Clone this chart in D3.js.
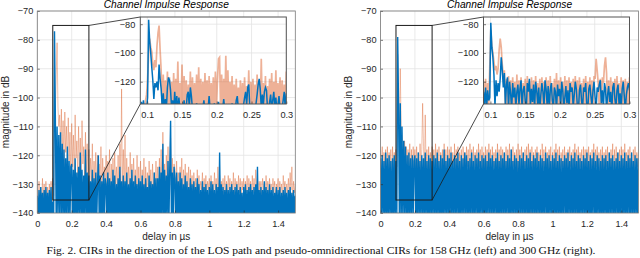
<!DOCTYPE html>
<html>
<head>
<meta charset="utf-8">
<script src="https://cdn.jsdelivr.net/npm/d3@7"></script>
<style>
  body { margin: 0; background: #fff; }
  svg { display: block; }
  .tick text { font-family: "Liberation Sans", Arial, sans-serif; font-size: 9.2px; fill: #262626; }
  .tick line { stroke: #262626; stroke-width: 0.6; }
</style>
</head>
<body>
<div id="chart"></div>
<script>
// sample grids (us)
const delayStep = 0.005;      // full-range traces, 0 .. 1.5 us
const zoomStart = 0.09;       // zoomed traces start
const zoomStep = 0.0015;      // zoomed traces, 0.09 .. 0.3 us

const xTicks = [0, 0.2, 0.4, 0.6, 0.8, 1, 1.2, 1.4];
const yTicks = [-70, -80, -90, -100, -110, -120, -130, -140];
const zoomXTicks = [0.1, 0.15, 0.2, 0.25, 0.3];
const zoomYTicks = [-80, -100, -120];

// 158 GHz, LOS direction (dB)
const los158 = [
  -134,-143,-132,-145,-131,-142,-133,-146,-132,-141,-131,-144,-133,-143,-132,-142,-131,-145,-136,-144,
  -77,-107,-143,-110,-142,-113,-141,-112,-144,-116,-142,-118,-145,-121,-141,-117,-143,-122,-142,-124,
  -123,-144,-125,-142,-121,-145,-126,-141,-124,-143,-119,-142,-125,-145,-127,-141,-118,-144,-126,-142,
  -127,-143,-129,-141,-125,-145,-128,-142,-126,-144,-130,-120,-143,-127,-145,-129,-141,-126,-144,-128,
  -130,-142,-126,-145,-128,-141,-129,-144,-125,-143,-127,-145,-130,-141,-128,-144,-124,-142,-129,-145,
  -127,-143,-129,-141,-126,-145,-130,-142,-128,-144,-125,-143,-129,-145,-127,-141,-130,-144,-128,-142,
  -129,-145,-127,-142,-130,-144,-128,-141,-131,-145,-127,-143,-129,-141,-130,-144,-126,-142,-128,-145,
  -128,-143,-124,-144,-126,-142,-116,-145,-125,-143,-127,-141,-122,-144,-125,-108,-143,-126,-142,-124,
  -128,-144,-126,-142,-129,-145,-126,-141,-128,-144,-130,-142,-127,-145,-129,-141,-131,-144,-128,-142,
  -130,-145,-129,-142,-131,-144,-128,-141,-130,-145,-132,-143,-129,-142,-131,-144,-130,-141,-132,-145,
  -131,-143,-129,-145,-130,-142,-132,-144,-130,-141,-131,-145,-119,-143,-130,-142,-131,-144,-132,-141,
  -130,-145,-132,-142,-131,-144,-130,-141,-132,-145,-131,-143,-130,-142,-132,-144,-131,-141,-133,-145,
  -131,-143,-130,-145,-132,-142,-131,-144,-130,-141,-132,-145,-131,-143,-130,-142,-124,-144,-132,-141,
  -131,-145,-132,-142,-129,-144,-131,-141,-132,-145,-130,-143,-132,-142,-131,-144,-133,-141,-131,-145,
  -132,-143,-131,-145,-133,-142,-132,-144,-131,-141,-133,-145,-132,-143,-131,-142,-133,-144,-132,-141,
  -134
];
// 158 GHz, pseudo-omnidirectional (dB)
const omni158 = [
  -130,-137,-129,-136,-131,-138,-128,-135,-130,-137,-129,-136,-131,-138,-130,-135,-129,-137,-128,-134,
  -96,-104,-92,-81,-103,-110,-106,-118,-104,-121,-108,-124,-105,-119,-110,-126,-107,-122,-112,-127,
  -109,-124,-113,-128,-106,-121,-115,-127,-110,-125,-114,-129,-108,-123,-117,-128,-112,-126,-116,-130,
  -118,-131,-121,-129,-116,-132,-122,-130,-119,-133,-120,-128,-123,-131,-117,-134,-121,-129,-124,-132,
  -120,-133,-122,-130,-118,-134,-123,-131,-121,-133,-119,-130,-124,-132,-120,-135,-116,-131,-97,-133,
  -118,-132,-113,-134,-121,-130,-124,-133,-119,-131,-123,-134,-121,-130,-125,-133,-120,-131,-124,-134,
  -122,-133,-125,-131,-121,-134,-124,-132,-126,-133,-122,-130,-125,-134,-123,-131,-126,-133,-122,-132,
  -124,-133,-121,-131,-118,-134,-112,-132,-123,-133,-120,-131,-117,-134,-122,-114,-132,-121,-133,-123,
  -125,-134,-122,-131,-126,-133,-124,-132,-121,-134,-125,-131,-123,-133,-126,-132,-124,-134,-125,-131,
  -127,-134,-126,-132,-128,-135,-125,-133,-127,-134,-129,-132,-126,-135,-128,-133,-127,-134,-129,-132,
  -128,-135,-127,-133,-129,-134,-126,-132,-128,-135,-124,-133,-127,-134,-129,-132,-128,-135,-127,-133,
  -129,-134,-127,-132,-128,-135,-129,-133,-126,-134,-128,-132,-129,-135,-127,-133,-128,-134,-129,-132,
  -128,-135,-129,-133,-127,-134,-128,-132,-129,-135,-127,-133,-128,-134,-125,-132,-128,-135,-129,-133,
  -129,-134,-128,-132,-130,-135,-127,-133,-129,-134,-128,-132,-130,-135,-128,-133,-129,-134,-130,-132,
  -128,-135,-129,-133,-130,-134,-127,-132,-129,-135,-130,-133,-128,-134,-126,-132,-124,-135,-129,-133,
  -130
];
// 158 GHz zoomed window
const los158Zoom = [
  -138,-134,-140,-133,-141,-137,-139,-131,-77,-92,-100,-110,-119,-132,-121,-124,-120,-126,-108,-118,
  -125,-138,-128,-140,-132,-139,-124,-117,-119,-126,-138,-133,-141,-127,-139,-130,-142,-131,-139,-141,
  -137,-140,-133,-142,-139,-129,-127,-138,-124,-130,-139,-142,-137,-140,-135,-141,-138,-142,-136,-140,
  -138,-133,-141,-136,-142,-139,-130,-140,-137,-142,-139,-135,-141,-138,-142,-134,-140,-137,-141,-139,
  -132,-140,-138,-142,-136,-141,-139,-142,-135,-140,-138,-141,-133,-130,-139,-142,-137,-140,-141,-136,
  -131,-127,-136,-124,-122,-138,-141,-136,-142,-139,-140,-135,-129,-122,-118,-125,-138,-129,-136,-127,
  -124,-126,-139,-141,-134,-129,-140,-133,-127,-138,-131,-141,-136,-130,-139,-142,-138,-133,-127,-139,
  -128
];
const omni158Zoom = [
  -138,-136,-141,-135,-139,-133,-129,-118,-100,-90,-96,-99,-108,-112,-105,-110,-95,-86,-81,-98,
  -112,-140,-115,-138,-119,-141,-113,-137,-117,-140,-120,-139,-114,-142,-118,-138,-106,-140,-121,-139,
  -108,-141,-116,-138,-119,-140,-122,-137,-113,-142,-117,-139,-121,-140,-115,-138,-110,-141,-118,-137,
  -120,-140,-114,-138,-119,-141,-116,-139,-121,-137,-117,-140,-113,-138,-119,-104,-103,-141,-115,-139,
  -118,-140,-102,-138,-112,-141,-120,-137,-116,-140,-122,-139,-118,-142,-124,-138,-119,-140,-121,-137,
  -117,-141,-123,-138,-112,-140,-120,-139,-118,-137,-122,-141,-115,-138,-119,-140,-104,-139,-121,-138,
  -116,-141,-123,-137,-118,-140,-114,-139,-120,-138,-112,-142,-121,-137,-117,-140,-119,-138,-122,-141,
  -113
];

// 300 GHz, LOS direction (dB)
const los300 = [
  -121,-143,-120,-141,-122,-145,-119,-142,-121,-144,-120,-141,-122,-145,-121,-142,-120,-144,-122,-141,
  -79,-103,-143,-102,-144,-110,-142,-115,-141,-117,-144,-120,-145,-119,-142,-121,-143,-120,-141,-122,
  -120,-142,-121,-145,-119,-141,-122,-144,-120,-141,-121,-145,-119,-142,-122,-143,-120,-145,-121,-141,
  -122,-144,-120,-141,-121,-145,-119,-142,-122,-143,-120,-145,-121,-142,-118,-144,-122,-141,-120,-145,
  -121,-141,-119,-144,-122,-141,-120,-145,-121,-142,-119,-143,-122,-145,-120,-141,-121,-144,-119,-141,
  -120,-145,-122,-142,-121,-144,-119,-141,-122,-145,-120,-141,-121,-143,-119,-145,-122,-141,-120,-144,
  -121,-142,-120,-145,-122,-141,-119,-144,-121,-141,-120,-145,-122,-141,-121,-143,-119,-145,-122,-142,
  -120,-144,-121,-141,-119,-145,-122,-141,-120,-143,-121,-145,-118,-142,-122,-144,-120,-141,-121,-145,
  -122,-141,-120,-144,-121,-141,-119,-145,-122,-142,-120,-143,-121,-145,-119,-141,-122,-144,-120,-141,
  -121,-145,-119,-141,-122,-144,-120,-142,-121,-145,-122,-141,-119,-143,-121,-145,-120,-141,-122,-144,
  -120,-141,-121,-145,-119,-143,-122,-142,-120,-144,-121,-145,-122,-141,-120,-142,-121,-145,-119,-141,
  -122,-144,-120,-142,-121,-145,-119,-141,-122,-143,-120,-145,-121,-141,-122,-144,-120,-141,-121,-145,
  -119,-142,-122,-144,-120,-145,-121,-141,-119,-143,-122,-145,-120,-141,-121,-144,-122,-142,-120,-145,
  -121,-141,-120,-145,-122,-142,-119,-144,-121,-141,-120,-145,-122,-141,-121,-143,-119,-145,-122,-141,
  -120,-144,-121,-142,-119,-145,-122,-141,-120,-143,-121,-145,-119,-141,-122,-144,-120,-141,-121,-145,
  -121
];
// 300 GHz, pseudo-omnidirectional (dB)
const omni300 = [
  -118,-126,-117,-129,-119,-124,-118,-130,-117,-127,-119,-125,-118,-131,-117,-126,-119,-128,-118,-124,
  -85,-104,-108,-90,-110,-113,-116,-122,-115,-126,-117,-124,-118,-129,-116,-125,-118,-127,-117,-124,
  -118,-128,-117,-125,-119,-130,-116,-126,-118,-102,-117,-127,-106,-124,-118,-129,-117,-125,-119,-128,
  -117,-126,-118,-130,-116,-124,-118,-127,-117,-139,-119,-125,-118,-128,-116,-126,-118,-131,-117,-124,
  -118,-128,-117,-125,-119,-140,-116,-127,-118,-124,-117,-129,-119,-126,-118,-138,-117,-125,-119,-127,
  -117,-124,-118,-131,-116,-126,-118,-128,-117,-140,-119,-125,-118,-127,-116,-124,-118,-139,-117,-126,
  -119,-128,-117,-125,-118,-130,-116,-126,-118,-140,-117,-124,-119,-127,-118,-129,-116,-125,-118,-138,
  -117,-126,-118,-124,-119,-131,-117,-128,-118,-125,-116,-140,-118,-127,-117,-124,-119,-129,-118,-126,
  -116,-127,-118,-139,-117,-125,-119,-128,-118,-124,-117,-130,-116,-126,-118,-140,-117,-125,-119,-127,
  -118,-124,-117,-129,-119,-126,-118,-140,-116,-125,-118,-128,-117,-124,-119,-131,-118,-126,-117,-139,
  -119,-127,-118,-125,-116,-130,-118,-126,-117,-140,-119,-124,-118,-128,-117,-125,-119,-139,-118,-127,
  -117,-124,-119,-129,-118,-126,-116,-140,-118,-125,-117,-128,-119,-124,-118,-131,-117,-126,-118,-139,
  -118,-128,-117,-125,-119,-140,-118,-126,-116,-129,-118,-124,-117,-127,-119,-138,-118,-125,-117,-128,
  -119,-126,-118,-124,-117,-139,-119,-127,-118,-125,-116,-140,-118,-128,-117,-124,-119,-126,-118,-130,
  -117,-125,-118,-140,-116,-127,-119,-124,-118,-129,-117,-126,-119,-139,-118,-125,-117,-128,-119,-124,
  -118
];
// 300 GHz zoomed window
const los300Zoom = [
  -127,-136,-124,-138,-126,-133,-131,-79,-96,-103,-115,-137,-119,-130,-121,-127,-118,-103,-112,-124,
  -114,-137,-122,-117,-139,-120,-128,-140,-121,-131,-124,-138,-127,-122,-136,-125,-119,-139,-126,-123,
  -133,-140,-121,-127,-118,-137,-125,-134,-122,-139,-120,-126,-136,-124,-141,-129,-121,-127,-138,-119,
  -125,-136,-123,-140,-126,-121,-133,-138,-124,-127,-141,-122,-130,-125,-137,-120,-126,-139,-131,-123,
  -135,-126,-140,-121,-127,-124,-138,-129,-120,-125,-137,-141,-126,-122,-133,-139,-124,-127,-121,-136,
  -140,-125,-122,-130,-137,-126,-120,-131,-139,-124,-127,-122,-119,-135,-126,-138,-121,-125,-140,-129,
  -123,-134,-127,-141,-124,-121,-132,-138,-126,-122,-136,-128,-139,-125,-120,-130,-140,-129,-124,-121,
  -126
];
const omni300Zoom = [
  -120,-138,-118,-140,-121,-137,-110,-84,-95,-100,-106,-112,-109,-115,-111,-98,-90,-96,-108,-116,
  -112,-139,-118,-141,-116,-138,-119,-140,-117,-137,-120,-141,-115,-139,-119,-138,-117,-140,-121,-137,
  -118,-141,-116,-138,-120,-140,-117,-137,-119,-141,-116,-139,-121,-138,-118,-140,-117,-137,-120,-141,
  -117,-138,-119,-140,-116,-137,-121,-141,-118,-139,-114,-138,-119,-140,-117,-137,-120,-141,-116,-138,
  -119,-140,-117,-137,-120,-141,-118,-139,-116,-138,-119,-140,-117,-137,-121,-141,-118,-139,-116,-138,
  -120,-140,-117,-137,-119,-141,-116,-118,-104,-112,-121,-139,-118,-138,-117,-121,-109,-103,-114,-140,
  -119,-138,-117,-141,-120,-137,-118,-140,-116,-139,-121,-138,-117,-141,-119,-137,-118,-140,-120,-138,
  -117
];

const width = 640, height = 258;
const blue = "#0072bd", orange = "#d95319";
const font = '"Liberation Sans", Arial, sans-serif';

const svg = d3.select("#chart").append("svg")
  .attr("width", width).attr("height", height);

const panels = [
  { id: "p158", left: 37.3, los: los158, omni: omni158, losZoom: los158Zoom, omniZoom: omni158Zoom },
  { id: "p300", left: 380.5, los: los300, omni: omni300, losZoom: los300Zoom, omniZoom: omni300Zoom }
];

const plotW = 258, plotTop = 11, plotBottom = 213;
const insetOffset = 103, insetW = 146, insetTop = 17, insetBottom = 104;

panels.forEach(drawPanel);

function drawPanel(p) {
  const x = d3.scaleLinear().domain([0, 1.5]).range([p.left, p.left + plotW]);
  const y = d3.scaleLinear().domain([-140, -70]).range([plotBottom, plotTop]);
  const g = svg.append("g");

  // grid
  g.append("g").selectAll("line").data(xTicks).join("line")
    .attr("x1", d => x(d)).attr("x2", d => x(d))
    .attr("y1", plotTop).attr("y2", plotBottom)
    .attr("stroke", "#e3e3e3").attr("stroke-width", 0.8);
  g.append("g").selectAll("line").data(yTicks).join("line")
    .attr("x1", x(0)).attr("x2", x(1.5))
    .attr("y1", d => y(d)).attr("y2", d => y(d))
    .attr("stroke", "#e3e3e3").attr("stroke-width", 0.8);

  svg.append("clipPath").attr("id", "clip-" + p.id)
    .append("rect").attr("x", x(0)).attr("y", plotTop)
    .attr("width", plotW).attr("height", plotBottom - plotTop);

  const line = d3.line()
    .x((d, i) => x(i * delayStep))
    .y(d => y(d));

  const traces = g.append("g").attr("clip-path", `url(#clip-${p.id})`);
  traces.append("path").datum(p.omni)
    .attr("d", line).attr("fill", "none")
    .attr("stroke", orange).attr("stroke-opacity", 0.36).attr("stroke-width", 1);
  traces.append("path").datum(p.los)
    .attr("d", line).attr("fill", "none")
    .attr("stroke", blue).attr("stroke-width", 1.4);

  // axes
  g.append("g").attr("transform", `translate(0,${plotBottom})`)
    .call(d3.axisBottom(x).tickValues(xTicks).tickSizeInner(-2.5).tickSizeOuter(0).tickPadding(7)
      .tickFormat(d3.format("~g")))
    .call(a => a.select(".domain").remove());
  g.append("g").attr("transform", `translate(${x(0)},0)`)
    .call(d3.axisLeft(y).tickValues(yTicks).tickSizeInner(-2.5).tickSizeOuter(0).tickPadding(4))
    .call(a => a.select(".domain").remove());

  g.append("rect")
    .attr("x", x(0)).attr("y", plotTop)
    .attr("width", plotW).attr("height", plotBottom - plotTop)
    .attr("fill", "none").attr("stroke", "#7a7a7a").attr("stroke-width", 0.8);

  const cx = x(0.75);
  g.append("text").attr("x", cx).attr("y", 8.4)
    .attr("text-anchor", "middle").attr("font-family", font)
    .attr("font-size", 10.2).attr("font-style", "italic").attr("fill", "#000")
    .text("Channel Impulse Response");
  g.append("text").attr("x", cx).attr("y", 240)
    .attr("text-anchor", "middle").attr("font-family", font)
    .attr("font-size", 10).attr("fill", "#262626")
    .text("delay in µs");
  g.append("text")
    .attr("transform", `translate(${p.left - 28.5},${(plotTop + plotBottom) / 2}) rotate(-90)`)
    .attr("text-anchor", "middle").attr("font-family", font)
    .attr("font-size", 10).attr("fill", "#262626")
    .text("magnitude in dB");

  // zoom rectangle in the main axes
  const zx0 = x(zoomStart), zx1 = x(0.3), zy0 = y(-75), zy1 = y(-135.5);
  g.append("rect").attr("x", zx0).attr("y", zy0)
    .attr("width", zx1 - zx0).attr("height", zy1 - zy0)
    .attr("fill", "none").attr("stroke", "#1a1a1a").attr("stroke-width", 1);

  // inset
  const ix0 = p.left + insetOffset, ix1 = ix0 + insetW;
  const xi = d3.scaleLinear().domain([zoomStart, 0.3]).range([ix0, ix1]);
  const yi = d3.scaleLinear().domain([-135.5, -75]).range([insetBottom, insetTop]);

  g.append("line").attr("x1", zx1).attr("y1", zy0).attr("x2", ix0).attr("y2", insetTop)
    .attr("stroke", "#1a1a1a").attr("stroke-width", 0.8);
  g.append("line").attr("x1", zx1).attr("y1", zy1).attr("x2", ix0).attr("y2", insetBottom)
    .attr("stroke", "#1a1a1a").attr("stroke-width", 0.8);

  const ig = g.append("g");
  ig.append("rect").attr("x", ix0).attr("y", insetTop)
    .attr("width", insetW).attr("height", insetBottom - insetTop).attr("fill", "#fff");
  ig.append("g").selectAll("line").data(zoomXTicks).join("line")
    .attr("x1", d => xi(d)).attr("x2", d => xi(d))
    .attr("y1", insetTop).attr("y2", insetBottom)
    .attr("stroke", "#e3e3e3").attr("stroke-width", 0.8);
  ig.append("g").selectAll("line").data(zoomYTicks).join("line")
    .attr("x1", ix0).attr("x2", ix1)
    .attr("y1", d => yi(d)).attr("y2", d => yi(d))
    .attr("stroke", "#e3e3e3").attr("stroke-width", 0.8);

  svg.append("clipPath").attr("id", "iclip-" + p.id)
    .append("rect").attr("x", ix0).attr("y", insetTop)
    .attr("width", insetW).attr("height", insetBottom - insetTop);

  const iline = d3.line()
    .x((d, i) => xi(zoomStart + i * zoomStep))
    .y(d => yi(d));
  const itraces = ig.append("g").attr("clip-path", `url(#iclip-${p.id})`);
  itraces.append("path").datum(p.omniZoom)
    .attr("d", iline).attr("fill", "none")
    .attr("stroke", orange).attr("stroke-opacity", 0.45).attr("stroke-width", 1.7);
  itraces.append("path").datum(p.losZoom)
    .attr("d", iline).attr("fill", "none")
    .attr("stroke", blue).attr("stroke-width", 1.5);

  ig.append("g").attr("transform", `translate(0,${insetBottom})`)
    .call(d3.axisBottom(xi).tickValues(zoomXTicks).tickSizeInner(-2.5).tickSizeOuter(0).tickPadding(7)
      .tickFormat(d3.format("~g")))
    .call(a => a.select(".domain").remove());
  ig.append("g").attr("transform", `translate(${ix0},0)`)
    .call(d3.axisLeft(yi).tickValues(zoomYTicks).tickSizeInner(-2.5).tickSizeOuter(0).tickPadding(5))
    .call(a => a.select(".domain").remove());
  ig.append("rect").attr("x", ix0).attr("y", insetTop)
    .attr("width", insetW).attr("height", insetBottom - insetTop)
    .attr("fill", "none").attr("stroke", "#555").attr("stroke-width", 1);
}

svg.append("text").attr("x", 321).attr("y", 254)
  .attr("text-anchor", "middle")
  .attr("font-family", '"Liberation Serif", "Times New Roman", serif')
  .attr("font-size", 11).attr("fill", "#111")
  .attr("textLength", 549).attr("lengthAdjust", "spacingAndGlyphs")
  .text("Fig. 2.  CIRs in the direction of the LOS path and pseudo-omnidirectional CIRs for 158\u2009GHz (left) and 300\u2009GHz (right).");
</script>
</body>
</html>
